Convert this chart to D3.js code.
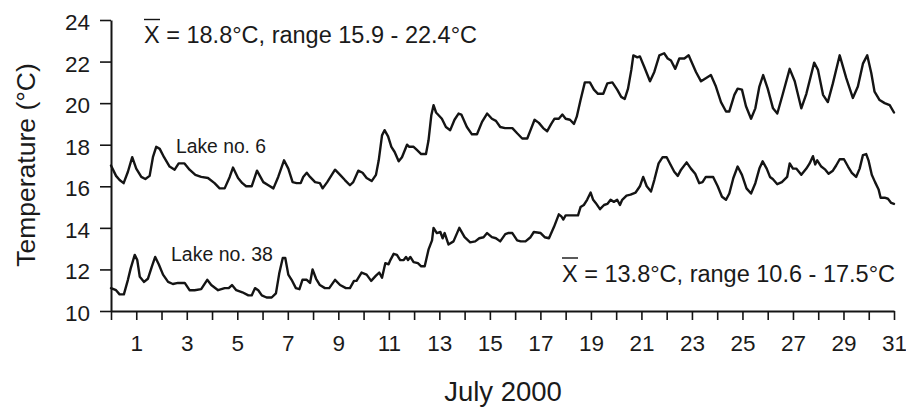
<!DOCTYPE html>
<html>
<head>
<meta charset="utf-8">
<script src="https://cdn.jsdelivr.net/npm/d3@7"></script>
<style>
  body { margin: 0; background: #fff; }
  svg { display: block; font-family: "Liberation Sans", Arial, sans-serif; }
  text { fill: #1a1a1a; }
</style>
</head>
<body>
<svg id="chart" width="906" height="409"></svg>
<script>
// Daily water temperature traces, July 2000 (day, degC)
const lake6 = [
  [0.0,17.0],[0.2,16.5],[0.34,16.3],[0.5,16.15],[0.67,16.7],[0.84,17.4],[1.0,16.85],[1.2,16.45],
  [1.36,16.35],[1.53,16.5],[1.66,17.4],[1.79,17.9],[1.93,17.8],[2.1,17.4],[2.32,16.95],[2.52,16.8],
  [2.68,17.1],[2.91,17.1],[3.11,16.8],[3.34,16.55],[3.57,16.45],[3.84,16.4],[4.1,16.15],[4.3,15.9],
  [4.5,15.9],[4.7,16.45],[4.83,16.9],[5.03,16.4],[5.2,16.15],[5.35,16.0],[5.57,16.0],[5.78,16.75],
  [6.03,16.2],[6.23,16.05],[6.43,15.9],[6.62,16.45],[6.85,17.25],[7.02,16.85],[7.19,16.2],[7.35,16.15],
  [7.51,16.15],[7.61,16.45],[7.75,16.65],[7.88,16.45],[8.08,16.2],[8.27,16.15],[8.38,15.9],[8.56,16.2],
  [8.87,16.8],[9.07,16.55],[9.26,16.3],[9.46,16.05],[9.59,16.2],[9.79,16.75],[9.96,16.65],[10.12,16.4],
  [10.32,16.25],[10.49,16.55],[10.6,17.25],[10.73,18.45],[10.83,18.7],[10.97,18.4],[11.1,17.9],[11.23,17.65],
  [11.39,17.2],[11.52,17.4],[11.72,18.0],[11.81,17.9],[11.98,17.9],[12.11,17.75],[12.28,17.55],[12.47,17.55],
  [12.57,18.2],[12.68,19.4],[12.77,19.9],[12.87,19.55],[13.1,19.25],[13.26,18.85],[13.43,18.7],[13.6,19.2],
  [13.76,19.5],[13.87,19.45],[14.09,18.85],[14.29,18.5],[14.49,18.5],[14.69,19.1],[14.89,19.5],[15.08,19.25],
  [15.24,19.15],[15.41,18.85],[15.6,18.8],[15.89,18.8],[16.08,18.55],[16.28,18.3],[16.48,18.3],[16.61,18.7],
  [16.77,19.2],[16.94,19.05],[17.11,18.8],[17.27,18.65],[17.43,19.0],[17.56,19.25],[17.73,19.25],[17.87,19.45],
  [18.0,19.25],[18.17,19.2],[18.33,19.0],[18.44,19.35],[18.59,20.15],[18.76,21.0],[18.96,21.0],[19.12,20.65],
  [19.28,20.45],[19.49,20.45],[19.65,20.95],[19.85,21.0],[20.04,20.65],[20.2,20.3],[20.34,20.2],[20.47,20.7],
  [20.6,21.6],[20.68,22.3],[20.84,22.2],[20.94,22.25],[21.11,21.75],[21.34,21.05],[21.51,21.5],[21.71,22.3],
  [21.9,22.4],[22.04,22.15],[22.17,22.05],[22.34,21.65],[22.5,22.15],[22.7,22.15],[22.87,22.3],[22.96,22.05],
  [23.16,21.5],[23.36,21.05],[23.55,21.2],[23.75,21.35],[23.95,20.8],[24.15,20.05],[24.35,19.6],[24.48,19.6],
  [24.68,20.4],[24.81,20.7],[24.98,20.65],[25.14,19.85],[25.34,19.25],[25.51,19.75],[25.67,20.8],[25.82,21.35],
  [26.0,20.7],[26.21,19.75],[26.38,19.5],[26.6,20.45],[26.87,21.65],[27.07,21.05],[27.33,19.75],[27.53,20.45],
  [27.84,21.95],[27.99,21.6],[28.19,20.4],[28.38,20.05],[28.58,20.95],[28.85,22.3],[29.11,21.2],[29.37,20.25],
  [29.57,20.8],[29.77,21.9],[29.94,22.3],[30.1,21.45],[30.23,20.55],[30.43,20.15],[30.63,20.0],[30.83,19.9],
  [31.0,19.55]
];

const lake38 = [
  [0.0,11.1],[0.2,11.0],[0.34,10.8],[0.51,10.8],[0.67,11.5],[0.78,12.05],[0.94,12.7],[1.04,12.45],
  [1.14,11.65],[1.31,11.4],[1.46,11.55],[1.62,12.15],[1.75,12.6],[1.89,12.25],[2.06,11.75],[2.26,11.4],
  [2.45,11.3],[2.65,11.35],[2.92,11.35],[3.11,11.0],[3.31,11.0],[3.57,11.05],[3.81,11.5],[3.97,11.25],
  [4.24,11.0],[4.5,11.1],[4.66,11.1],[4.79,11.25],[4.96,11.0],[5.2,10.9],[5.44,10.75],[5.57,10.75],
  [5.7,11.1],[5.83,11.0],[5.97,10.75],[6.16,10.65],[6.36,10.65],[6.53,10.85],[6.66,11.8],[6.8,12.55],
  [6.9,12.55],[7.02,11.75],[7.15,11.5],[7.32,11.1],[7.46,11.05],[7.58,11.5],[7.75,11.5],[7.88,11.35],
  [7.98,12.0],[8.12,11.55],[8.27,11.25],[8.47,11.1],[8.64,11.1],[8.87,11.5],[9.07,11.25],[9.3,11.1],
  [9.46,11.1],[9.62,11.45],[9.72,11.45],[9.92,11.85],[10.12,11.75],[10.3,11.45],[10.49,11.7],[10.62,11.85],
  [10.73,11.6],[10.86,12.3],[10.99,12.25],[11.06,12.45],[11.19,12.75],[11.32,12.7],[11.45,12.45],[11.59,12.45],
  [11.68,12.6],[11.76,12.45],[11.85,12.6],[11.98,12.35],[12.15,12.3],[12.28,12.15],[12.42,12.15],[12.57,12.95],
  [12.71,13.4],[12.77,14.0],[12.9,13.75],[13.04,13.8],[13.13,13.5],[13.21,13.75],[13.36,13.2],[13.56,13.35],
  [13.79,14.0],[14.0,13.55],[14.22,13.3],[14.42,13.35],[14.58,13.5],[14.75,13.55],[14.89,13.75],[15.08,13.55],
  [15.24,13.5],[15.41,13.35],[15.61,13.7],[15.72,13.75],[15.89,13.75],[16.08,13.4],[16.22,13.35],[16.41,13.35],
  [16.61,13.55],[16.74,13.8],[17.01,13.75],[17.17,13.55],[17.34,13.5],[17.54,14.05],[17.73,14.65],[17.83,14.55],
  [17.91,14.4],[18.0,14.6],[18.2,14.6],[18.49,14.6],[18.59,15.0],[18.72,15.1],[18.85,15.35],[18.99,15.7],
  [19.09,15.35],[19.19,15.2],[19.36,14.9],[19.52,15.1],[19.65,15.15],[19.78,15.35],[19.91,15.25],[20.04,15.35],
  [20.15,15.1],[20.24,15.35],[20.41,15.55],[20.57,15.6],[20.77,15.7],[20.94,16.0],[21.07,16.45],[21.21,16.0],
  [21.38,15.75],[21.51,16.3],[21.68,17.1],[21.84,17.4],[22.0,17.4],[22.17,17.0],[22.3,16.7],[22.44,16.5],
  [22.57,16.8],[22.79,17.15],[22.96,16.85],[23.13,16.6],[23.29,16.15],[23.42,16.2],[23.55,16.45],[23.84,16.45],
  [24.02,16.0],[24.19,15.5],[24.35,15.35],[24.48,15.65],[24.64,16.4],[24.81,16.95],[24.98,16.55],[25.16,15.9],
  [25.34,15.65],[25.51,16.15],[25.67,16.85],[25.8,17.2],[25.96,16.85],[26.09,16.45],[26.2,16.35],[26.38,16.1],
  [26.56,16.2],[26.77,16.45],[26.87,17.1],[27.0,16.85],[27.13,16.85],[27.33,16.55],[27.53,16.85],[27.66,17.1],
  [27.79,17.45],[27.88,17.05],[27.96,17.25],[28.12,16.95],[28.28,16.8],[28.41,16.6],[28.58,16.75],[28.71,17.0],
  [28.85,17.3],[29.02,17.3],[29.18,16.95],[29.33,16.65],[29.5,16.45],[29.64,16.85],[29.77,17.5],[29.9,17.55],
  [29.99,17.25],[30.12,16.55],[30.25,16.2],[30.39,15.85],[30.47,15.45],[30.63,15.45],[30.76,15.4],[30.89,15.2],
  [31.0,15.15]
];

const dayTicks = d3.range(0, 32);
const dayLabels = [1, 3, 5, 7, 9, 11, 13, 15, 17, 19, 21, 23, 25, 27, 29, 31];
const tempTicks = [10, 12, 14, 16, 18, 20, 22, 24];

const svg = d3.select("#chart");
const ink = "#141414";

const x = d3.scaleLinear().domain([0, 31]).range([111, 894]);
const y = d3.scaleLinear().domain([10, 24]).range([311, 20]);

// axes
const yAxis = svg.append("g")
    .attr("transform", "translate(111,0)")
    .call(d3.axisLeft(y).tickValues(tempTicks).tickSize(11).tickSizeOuter(0).tickPadding(10));

const xAxis = svg.append("g")
    .attr("transform", "translate(0,311)")
    .call(d3.axisBottom(x).tickValues(dayTicks).tickSize(9).tickSizeOuter(0).tickPadding(15)
        .tickFormat(d => dayLabels.includes(d) ? d : ""));

[yAxis, xAxis].forEach(g => {
    g.select(".domain").attr("stroke", ink).attr("stroke-width", 2);
    g.selectAll(".tick line").attr("stroke", ink).attr("stroke-width", 1.6);
    g.selectAll(".tick text")
        .attr("fill", ink)
        .attr("font-size", "22.5px")
        .attr("font-family", "'Liberation Sans', Arial, sans-serif");
});
yAxis.selectAll(".tick text").attr("dy", "0.42em");

// lines
const line = d3.line()
    .x(d => x(d[0]))
    .y(d => y(d[1]));

[lake6, lake38].forEach(series => {
    svg.append("path")
        .datum(series)
        .attr("fill", "none")
        .attr("stroke", ink)
        .attr("stroke-width", 2.4)
        .attr("stroke-linejoin", "round")
        .attr("stroke-linecap", "round")
        .attr("d", line);
});

// axis titles
svg.append("text")
    .attr("transform", "translate(35,165) rotate(-90)")
    .attr("text-anchor", "middle")
    .attr("font-size", "26.5px")
    .text("Temperature (°C)");

svg.append("text")
    .attr("x", 503)
    .attr("y", 401)
    .attr("text-anchor", "middle")
    .attr("font-size", "27.5px")
    .text("July 2000");

// series labels
svg.append("text")
    .attr("x", 176).attr("y", 153)
    .attr("font-size", "19.3px")
    .text("Lake no. 6");

svg.append("text")
    .attr("x", 171).attr("y", 260.5)
    .attr("font-size", "19.5px")
    .text("Lake no. 38");

// mean / range annotations with an overbar on X
function meanNote(xPos, yPos, anchor, rest) {
    const t = svg.append("text")
        .attr("x", xPos).attr("y", yPos)
        .attr("text-anchor", anchor)
        .attr("font-size", "23.5px");
    const xs = t.append("tspan").text("X");
    t.append("tspan").text(" = " + rest);
    const box = xs.node().getBBox();
    svg.append("line")
        .attr("x1", box.x).attr("x2", box.x + box.width)
        .attr("y1", yPos - 23.5).attr("y2", yPos - 23.5)
        .attr("stroke", ink).attr("stroke-width", 1.4);
}

meanNote(144, 43, "start", "18.8°C, range 15.9 - 22.4°C");
meanNote(895, 281.5, "end", "13.8°C, range 10.6 - 17.5°C");
</script>
</body>
</html>
